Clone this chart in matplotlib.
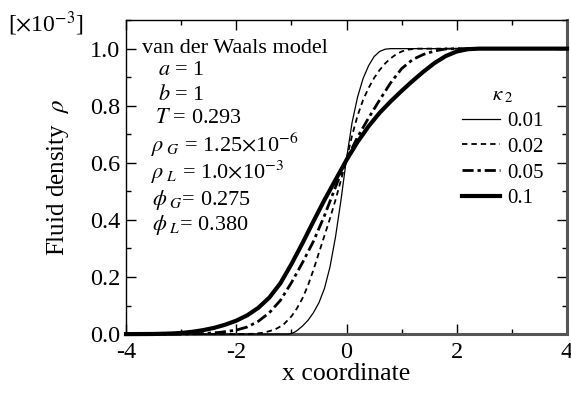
import matplotlib
matplotlib.use("Agg")
import matplotlib.pyplot as plt
from matplotlib.ticker import MultipleLocator, FormatStrFormatter

plt.rcParams["font.family"] = ["Liberation Serif", "DejaVu Serif"]
plt.rcParams["mathtext.fontset"] = "stix"
plt.rcParams["axes.unicode_minus"] = False

# density profiles, one per kappa_2
x_k001 = [-4.0, -1.2, -1.05, -1.0, -0.95, -0.9, -0.8, -0.7, -0.6, -0.5, -0.4, -0.3,
          -0.2, -0.1, 0.0, 0.1, 0.2, 0.3, 0.4, 0.5, 0.6, 0.7, 0.8, 4.0]
y_k001 = [0.0, 0.0, 0.0, 0.002, 0.006, 0.012, 0.028, 0.048, 0.075, 0.11, 0.16, 0.235,
          0.34, 0.47, 0.615, 0.74, 0.83, 0.895, 0.94, 0.972, 0.99, 0.998, 1.0, 1.0]

x_k002 = [-4.0, -2.0, -1.7, -1.5, -1.3, -1.15, -1.0, -0.9, -0.8, -0.7, -0.6, -0.5,
          -0.4, -0.3, -0.2, -0.1, 0.0, 0.1, 0.2, 0.3, 0.4, 0.5, 0.6, 0.7, 0.8, 0.9,
          1.0, 1.1, 1.25, 4.0]
y_k002 = [0.0, 0.0, 0.001, 0.005, 0.016, 0.032, 0.062, 0.09, 0.125, 0.17, 0.225, 0.285,
          0.345, 0.405, 0.47, 0.54, 0.612, 0.695, 0.765, 0.82, 0.862, 0.897, 0.925, 0.948,
          0.966, 0.98, 0.99, 0.996, 1.0, 1.0]

x_k005 = [-4.0, -3.0, -2.6, -2.3, -2.0, -1.8, -1.6, -1.4, -1.2, -1.0, -0.8, -0.6, -0.4,
          -0.2, 0.0, 0.2, 0.4, 0.6, 0.8, 1.0, 1.2, 1.4, 1.6, 1.8, 2.0, 4.0]
y_k005 = [0.0, 0.0, 0.002, 0.006, 0.014, 0.025, 0.045, 0.075, 0.118, 0.18, 0.25, 0.325,
          0.415, 0.515, 0.612, 0.69, 0.757, 0.82, 0.88, 0.93, 0.962, 0.98, 0.992, 0.999,
          1.0, 1.0]

x_k01 = [-4.0, -3.5, -3.2, -3.0, -2.8, -2.6, -2.4, -2.2, -2.0, -1.8, -1.6, -1.4, -1.2,
         -1.0, -0.8, -0.6, -0.4, -0.2, 0.0, 0.2, 0.4, 0.6, 0.8, 1.0, 1.2, 1.4, 1.6, 1.8,
         2.0, 2.2, 2.4, 4.0]
y_k01 = [0.0, 0.0005, 0.002, 0.004, 0.008, 0.014, 0.022, 0.033, 0.047, 0.066, 0.092, 0.128,
         0.178, 0.245, 0.318, 0.395, 0.47, 0.54, 0.61, 0.673, 0.728, 0.775, 0.815, 0.852,
         0.887, 0.92, 0.95, 0.974, 0.99, 0.998, 1.0, 1.0]

kappa_labels = ["0.01", "0.02", "0.05", "0.1"]

params = [
    (0.036, 0.911, "van der Waals model"),
    (0.072, 0.841, r"$a$ = 1"),
    (0.072, 0.761, r"$b$ = 1"),
    (0.066, 0.688, r"$T$ = 0.293"),
    (0.057, 0.602, r"$\rho_{\ G}$ = 1.25$\times$10$^{\mathrm{-6}}$"),
    (0.057, 0.516, r"$\rho_{\ L}$ = 1.0$\times$10$^{\mathrm{-3}}$"),
    (0.059, 0.427, r"$\phi_{\ G}$= 0.275"),
    (0.059, 0.346, r"$\phi_{\ L}$= 0.380"),
]

fig = plt.figure(figsize=(5.71, 3.94), dpi=100)
ax = fig.add_axes([0.2207, 0.152, 0.7723, 0.797])

styles = [
    dict(lw=0.9, ls="-"),
    dict(lw=1.3, ls=(0, (3.0, 2.2))),
    dict(lw=2.0, ls=(0, (4.0, 1.4, 1.2, 1.4))),
    dict(lw=3.0, ls="-"),
]
curves = [(x_k001, y_k001), (x_k002, y_k002), (x_k005, y_k005), (x_k01, y_k01)]
for (xs, ys), st, lab in zip(curves, styles, kappa_labels):
    ax.plot(xs, ys, color="black", label=lab, clip_on=False, zorder=3,
            solid_joinstyle="round", **st)

ax.set_xlim(-4, 4)
ax.set_ylim(0, 1.1)
ax.xaxis.set_major_locator(MultipleLocator(2))
ax.xaxis.set_minor_locator(MultipleLocator(1))
ax.yaxis.set_major_locator(MultipleLocator(0.2))
ax.yaxis.set_minor_locator(MultipleLocator(0.1))
ax.yaxis.set_major_formatter(FormatStrFormatter("%.1f"))
ax.set_yticks([0, 0.2, 0.4, 0.6, 0.8, 1.0])

ax.tick_params(which="both", direction="in", top=True, right=True,
               labelsize=17.5, width=1)
ax.tick_params(which="major", length=7, pad=4)
ax.tick_params(axis="x", which="major", pad=6)
ax.tick_params(which="minor", length=3.5)

for side in ("left", "top"):
    ax.spines[side].set_linewidth(1.0)
for side in ("bottom", "right"):
    ax.spines[side].set_linewidth(2.2)
    ax.spines[side].set_color("#555555")

ax.set_xlabel("x coordinate", fontsize=18.5, labelpad=0)
ax.set_ylabel(r"Fluid density  $\rho$", fontsize=18, labelpad=14)

for tx, ty, s in params:
    ax.text(tx, ty, s, transform=ax.transAxes, fontsize=16, va="center", ha="left")

fig.text(0.014, 0.94, r"[$\times$10$^{\mathrm{-3}}$]", fontsize=17, va="center", ha="left")

leg = ax.legend(title=r"$\kappa_{\ 2}$", loc="upper left", bbox_to_anchor=(0.762, 0.79),
                frameon=False, fontsize=15, title_fontsize=15, handlelength=1.8,
                handletextpad=0.35, labelspacing=0.3, borderpad=0, borderaxespad=0)

fig.savefig("out.png", dpi=100)
